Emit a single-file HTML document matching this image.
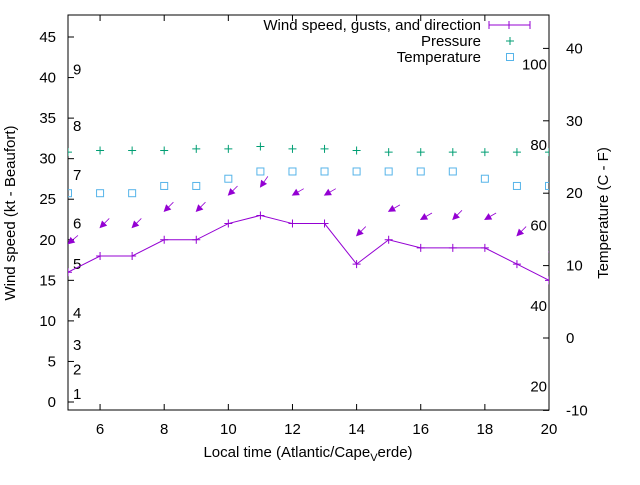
<!DOCTYPE html>
<html><head><meta charset="utf-8"><style>
body{margin:0;background:#fff}
text{font-family:"Liberation Sans",sans-serif;font-size:15px;fill:#000}
</style></head><body>
<svg width="640" height="480" xmlns="http://www.w3.org/2000/svg">
<g id="g"></g>
</svg>
<script>
const hours=[5,6,7,8,9,10,11,12,13,14,15,16,17,18,19,20];
const windSpeed=[16,18,18,20,20,22,23,22,22,17,20,19,19,19,17,15];
const windGust=[19.5,21.5,21.5,23.5,23.5,25.5,26.5,25.5,25.5,20.5,23.5,22.5,22.5,22.5,20.5,18.5];
const windDir=[50,45,45,45,45,45,35,60,60,45,60,60,45,60,45,60];
const pressure=[30.8,31,31,31,31.2,31.2,31.5,31.2,31.2,31,30.8,30.8,30.8,30.8,30.8,30.8];
const tempC=[20,20,20,21,21,22,23,23,23,23,23,23,23,22,21,21];
const xTicks=[6,8,10,12,14,16,18,20];
const yTicks=[0,5,10,15,20,25,30,35,40,45];
const y2Ticks=[-10,0,10,20,30,40];
const beaufort=[[1,1],[2,4],[3,7],[4,11],[5,17],[6,22],[7,28],[8,34],[9,41]];
const fTicks=[20,40,60,80,100];

const L=68,R=549,T=15,B=410;
const xs=v=>L+(v-5)*(R-L)/15;
const ys=v=>402-v*8.111;
const y2=v=>338-v*7.24;
const g=document.getElementById('g');
const NS='http://www.w3.org/2000/svg';
function mk(t,a,txt){const e=document.createElementNS(NS,t);for(const k in a)e.setAttribute(k,a[k]);if(txt!=null)e.textContent=txt;g.appendChild(e);return e;}

let e=mk('rect',{x:L,y:T,width:R-L,height:B-T,fill:'none',stroke:'#000','stroke-width':1});



xTicks.forEach(v=>{const x=xs(v);
 mk('line',{x1:x,y1:B,x2:x,y2:B-6,stroke:'#000'});mk('line',{x1:x,y1:T,x2:x,y2:T+6,stroke:'#000'});
 e=mk('text',{x:x,y:434,'text-anchor':'middle'},v);
 
 });
yTicks.forEach(v=>{const y=ys(v);
 mk('line',{x1:L,y1:y,x2:L+6,y2:y,stroke:'#000'});
 e=mk('text',{x:56,y:y+5,'text-anchor':'end'},v);
 
 });
y2Ticks.forEach(v=>{const y=y2(v);
 mk('line',{x1:R,y1:y,x2:R-6,y2:y,stroke:'#000'});
 e=mk('text',{x:566,y:y+5},v);
 
 });
beaufort.forEach(([n,kt])=>{const y=ys(kt);
 e=mk('text',{x:73,y:y+5},n);
 
 });
fTicks.forEach(f=>{const y=y2((f-32)/1.8);
 e=mk('text',{x:547,y:y+5,'text-anchor':'end'},f);
 
 });

e=mk('text',{x:308,y:457,'text-anchor':'middle'});
e.innerHTML='Local time (Atlantic/Cape<tspan dy="4" font-size="11">V</tspan><tspan dy="-4">erde)</tspan>';


e=mk('text',{x:15,y:213,'text-anchor':'middle',transform:'rotate(-90 15 213)'},'Wind speed (kt - Beaufort)');


e=mk('text',{x:608,y:213,'text-anchor':'middle',transform:'rotate(-90 608 213)'},'Temperature (C - F)');



const purple='#9400d3',green='#009e73',blue='#56b4e9';
mk('clipPath',{id:'c'}).innerHTML=`<rect x="${L}" y="${T}" width="${R-L}" height="${B-T}"/>`;
e=mk('polyline',{points:hours.map((h,i)=>xs(h)+','+ys(windSpeed[i])).join(' '),fill:'none',stroke:purple,'stroke-width':1,'clip-path':'url(#c)'});


hours.forEach((h,i)=>{const x=xs(h),y=ys(windSpeed[i]);
 e=mk('path',{d:`M${x-4},${y}h8M${x},${y-4}v8`,stroke:purple,'clip-path':'url(#c)'});
 
 
 const px=xs(h),py=ys(pressure[i]);
 e=mk('path',{d:`M${px-4},${py}h8M${px},${py-4}v8`,stroke:green,'clip-path':'url(#c)'});
 
 
 const ty=y2(tempC[i]);
 e=mk('rect',{x:px-3.5,y:ty-3.5,width:7,height:7,fill:'none',stroke:blue,'clip-path':'url(#c)'});
 
 
 const gx=xs(h),gy=ys(windGust[i]),a=windDir[i]*Math.PI/180,len=13;
 const tx=gx+len*Math.sin(a),tyy=gy-len*Math.cos(a);
 const ux=(gx-tx)/len,uy=(gy-tyy)/len,hl=6,hw=3;
 const bx=gx-ux*hl,by=gy-uy*hl;
 e=mk('path',{d:`M${tx},${tyy}L${gx},${gy}M${gx},${gy}L${bx-uy*hw},${by+ux*hw}L${bx+uy*hw},${by-ux*hw}Z`,stroke:purple,'stroke-width':0.8,fill:purple,'clip-path':'url(#c)'});
 
 
});

e=mk('text',{x:481,y:30,'text-anchor':'end'},'Wind speed, gusts, and direction');


mk('path',{d:'M489,25h41M489,21v8M530,21v8M505,25h8M509,21v8',stroke:purple});
e=mk('text',{x:481,y:46,'text-anchor':'end'},'Pressure');


mk('path',{d:'M506,41h8M510,37v8',stroke:green});
e=mk('text',{x:481,y:62,'text-anchor':'end'},'Temperature');


mk('rect',{x:506.5,y:53.5,width:7,height:7,fill:'none',stroke:blue});
</script>
</body></html>
